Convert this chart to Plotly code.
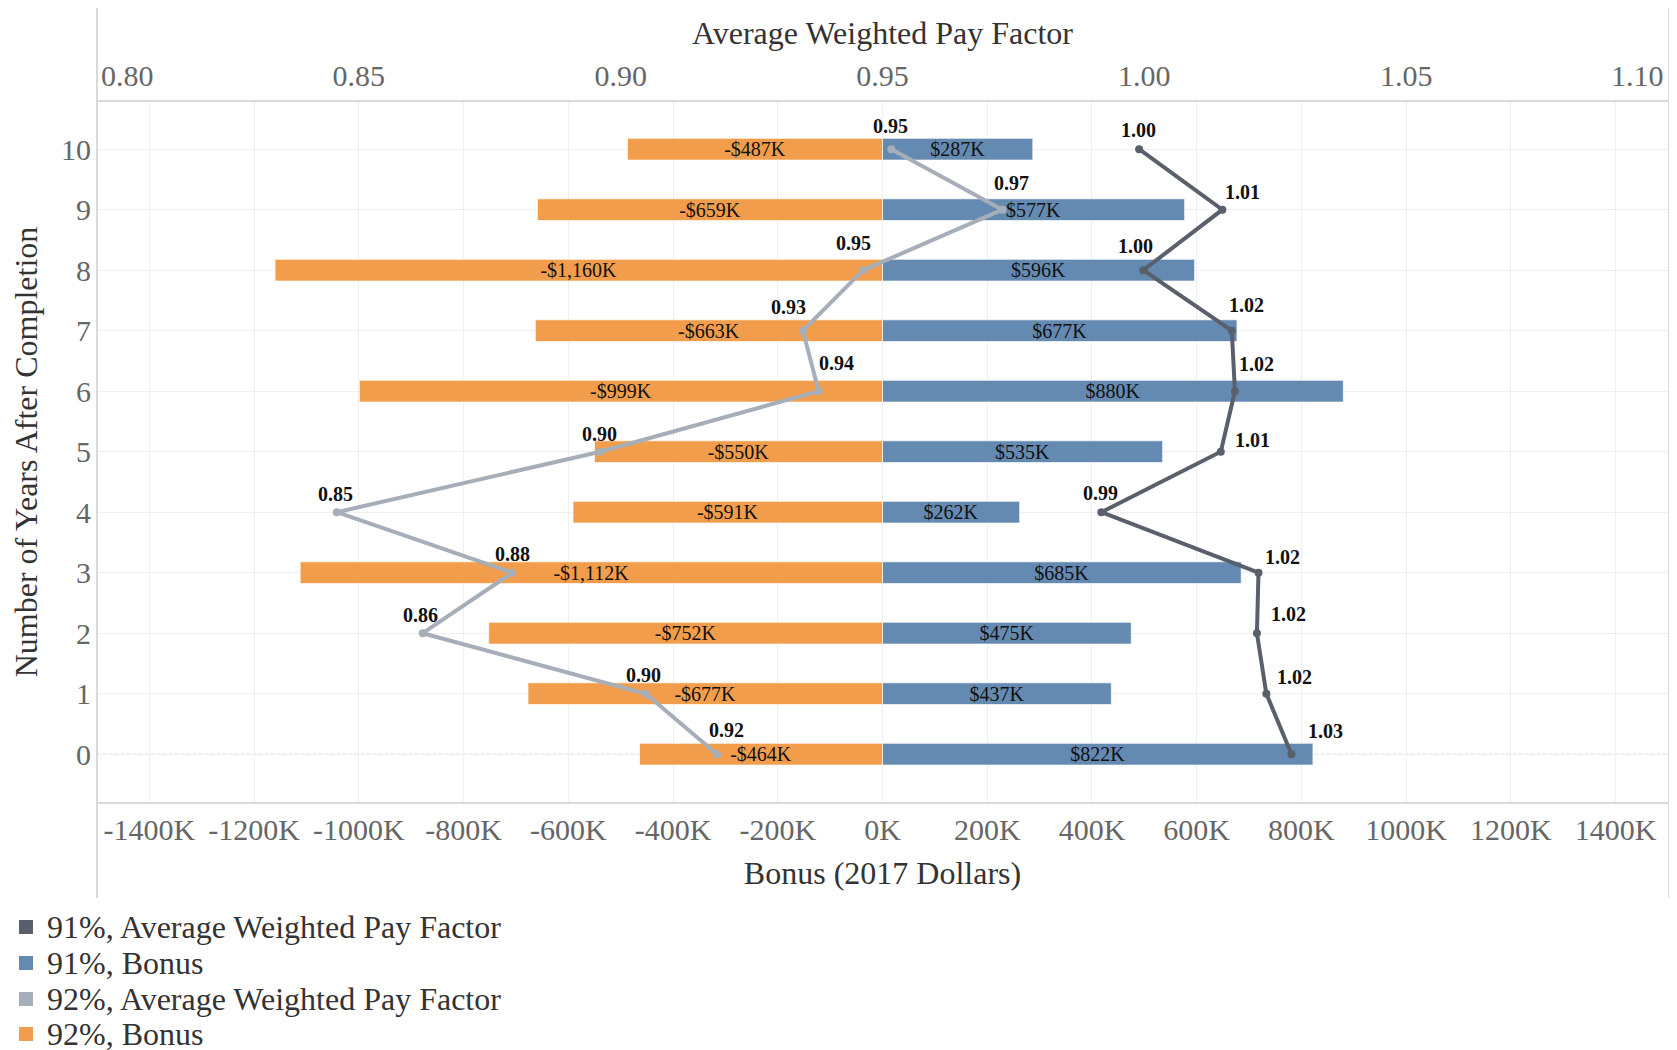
import plotly.graph_objects as go

# ---------------- data ----------------
years = [0, 1, 2, 3, 4, 5, 6, 7, 8, 9, 10]
bonus_91_k = [822, 437, 475, 685, 262, 535, 880, 677, 596, 577, 287]
bonus_92_k = [-464, -677, -752, -1112, -591, -550, -999, -663, -1160, -659, -487]
awpf_91 = [1.0281, 1.0233, 1.0215, 1.0218, 0.9918, 1.0146, 1.0173, 1.0167, 0.9998, 1.0149, 0.9990]
awpf_92 = [0.9184, 0.9048, 0.8622, 0.8793, 0.8458, 0.8961, 0.9378, 0.9348, 0.9463, 0.9729, 0.9517]

bonus_ticks_k = [-1400, -1200, -1000, -800, -600, -400, -200, 0, 200, 400, 600, 800, 1000, 1200, 1400]
awpf_ticks = [0.80, 0.85, 0.90, 0.95, 1.00, 1.05, 1.10]

series_names = ["91%, Average Weighted Pay Factor", "91%, Bonus",
                "92%, Average Weighted Pay Factor", "92%, Bonus"]

# ---------------- styles / layout constants ----------------
FONT = "Liberation Serif, Times New Roman, serif"
C_DARK = "#59606b"
C_BLUE = "#658ab2"
C_LIGHT = "#a6aeba"
C_ORANGE = "#f29d4b"
AXIS_LINE = "#d9d9d9"
GRID = "#efefef"
TICK_COL = "#666666"
TITLE_COL = "#333333"

W, H = 1677, 1050
OFF = 8  # page body margin: the figure starts 8px from the window corner
# target plot area in window pixels: left 97, right 1668, top 102, bottom 802
ML, MT = 97 - OFF, 102 - OFF
MR = W - (1668 - OFF)
MB = H - (802 - OFF)
PW, PH = W - ML - MR, H - MT - MB


def px(x):
    """window x pixel -> paper x"""
    return (x - OFF - ML) / PW


def py(y):
    """window y pixel -> paper y"""
    return (H - MB - (y - OFF)) / PH


# label offsets (pixels) of the pay-factor point labels, years 0..10
dx_91 = [34, 28, 32, 24, -1, 32, 22, 15, -8, 20, -1]
dy_91 = [23, 17, 19, 16, 19, 12, 27, 26, 24, 18, 19]
dx_92 = [9, -2, -2, 0, -1, -1, 18, -14, -10, 9, -1]
dy_92 = [24, 19, 18, 19, 18, 18, 28, 24, 27, 27, 23]


def money(v):
    s = f"${abs(v):,}K"
    return ("-" + s) if v < 0 else s


fig = go.Figure()

# bars (bottom axis)
for vals, col, nm in [(bonus_91_k, C_BLUE, series_names[1]), (bonus_92_k, C_ORANGE, series_names[3])]:
    fig.add_trace(go.Bar(
        y=years, x=vals, orientation="h", width=0.36,
        marker=dict(color=col, line=dict(color="rgba(255,255,255,0.7)", width=1)),
        text=[money(v) for v in vals], textposition="inside",
        insidetextanchor="middle", constraintext="none",
        textfont=dict(family=FONT, size=20, color="#111111"),
        name=nm, showlegend=False, xaxis="x", yaxis="y"))

# lines (top axis)
for vals, col, nm in [(awpf_92, C_LIGHT, series_names[2]), (awpf_91, C_DARK, series_names[0])]:
    fig.add_trace(go.Scatter(
        x=vals, y=years, mode="lines+markers",
        line=dict(color=col, width=4), marker=dict(color=col, size=8),
        name=nm, showlegend=False, xaxis="x2", yaxis="y", cliponaxis=False))

annotations = []
# point labels
for vals, dxs, dys in [(awpf_92, dx_92, dy_92), (awpf_91, dx_91, dy_91)]:
    for yv, v, dx, dy in zip(years, vals, dxs, dys):
        annotations.append(dict(
            x=v, y=yv, xref="x2", yref="y", text=f"<b>{v:.2f}</b>",
            showarrow=False, xanchor="center", yanchor="middle",
            xshift=dx, yshift=dy,
            font=dict(family=FONT, size=20, color="#111111")))

# edge labels of the top axis (kept inside the frame like the original)
annotations += [
    dict(x=awpf_ticks[0], y=1, xref="x2", yref="paper", text=f"{awpf_ticks[0]:.2f}",
         xanchor="left", yanchor="middle", xshift=2, yshift=27, showarrow=False,
         font=dict(family=FONT, size=30, color=TICK_COL)),
    dict(x=awpf_ticks[-1], y=1, xref="x2", yref="paper", text=f"{awpf_ticks[-1]:.2f}",
         xanchor="right", yanchor="middle", xshift=-2, yshift=27, showarrow=False,
         font=dict(family=FONT, size=30, color=TICK_COL)),
]

shapes = [
    # frame lines extending beyond the plot area
    dict(type="line", xref="paper", yref="paper", x0=0, x1=0, y0=py(898), y1=py(7),
         line=dict(color=AXIS_LINE, width=2)),
    dict(type="line", xref="paper", yref="paper", x0=px(1669), x1=px(1669), y0=py(898), y1=py(7),
         line=dict(color=AXIS_LINE, width=2)),
    # dotted zero lines
    dict(type="line", xref="x", yref="paper", x0=0, x1=0, y0=0, y1=1,
         line=dict(color="#c8c8c8", width=1, dash="dot"), layer="below"),
    dict(type="line", xref="paper", yref="y", x0=0, x1=1, y0=0, y1=0,
         line=dict(color="#c8c8c8", width=1, dash="dot"), layer="below"),
]

# legend (drawn as swatches + text)
legend_rows_px = [927, 963, 999, 1034]
for nm, col, cy in zip(series_names, [C_DARK, C_BLUE, C_LIGHT, C_ORANGE], legend_rows_px):
    shapes.append(dict(type="rect", xref="paper", yref="paper",
                       x0=px(19), x1=px(33), y0=py(cy + 7), y1=py(cy - 7),
                       fillcolor=col, line=dict(width=0)))
    annotations.append(dict(x=px(45), y=py(cy), xref="paper", yref="paper", text=nm,
                            xanchor="left", yanchor="middle", showarrow=False,
                            font=dict(family=FONT, size=32, color=TITLE_COL)))

fig.update_layout(
    width=W, height=H,
    margin=dict(l=ML, r=MR, t=MT, b=MB, autoexpand=False),
    paper_bgcolor="white", plot_bgcolor="white",
    barmode="overlay", showlegend=False,
    font=dict(family=FONT, color=TITLE_COL),
    xaxis=dict(
        range=[-1500, 1500], tickvals=bonus_ticks_k,
        ticktext=[f"{v}K" for v in bonus_ticks_k], tickangle=0,
        tickfont=dict(family=FONT, size=30, color=TICK_COL),
        showgrid=True, gridcolor=GRID, gridwidth=1, zeroline=False,
        showline=True, linecolor=AXIS_LINE, linewidth=2, ticks="",
        ticklabelstandoff=0, automargin=False,
        title=dict(text="Bonus (2017 Dollars)", font=dict(family=FONT, size=32, color=TITLE_COL),
                   standoff=17),
        fixedrange=True),
    xaxis2=dict(
        overlaying="x", side="top", range=[0.8, 1.1], tickangle=0,
        tickvals=awpf_ticks[1:-1], ticktext=[f"{v:.2f}" for v in awpf_ticks[1:-1]],
        tickfont=dict(family=FONT, size=30, color=TICK_COL),
        showgrid=False, zeroline=False,
        showline=True, linecolor=AXIS_LINE, linewidth=2, ticks="",
        ticklabelstandoff=2, automargin=False,
        title=dict(text="Average Weighted Pay Factor", font=dict(family=FONT, size=32, color=TITLE_COL),
                   standoff=5),
        fixedrange=True),
    yaxis=dict(
        range=[-0.79, 10.78], tickvals=years, ticktext=[str(v) for v in years],
        tickfont=dict(family=FONT, size=30, color=TICK_COL),
        showgrid=True, gridcolor=GRID, gridwidth=1, zeroline=False,
        showline=False, ticks="", ticklabelstandoff=5, automargin=False,
        title=dict(text="Number of Years After Completion",
                   font=dict(family=FONT, size=32, color=TITLE_COL), standoff=14),
        fixedrange=True),
    annotations=annotations,
    shapes=shapes,
)

fig.write_html("out.html")
